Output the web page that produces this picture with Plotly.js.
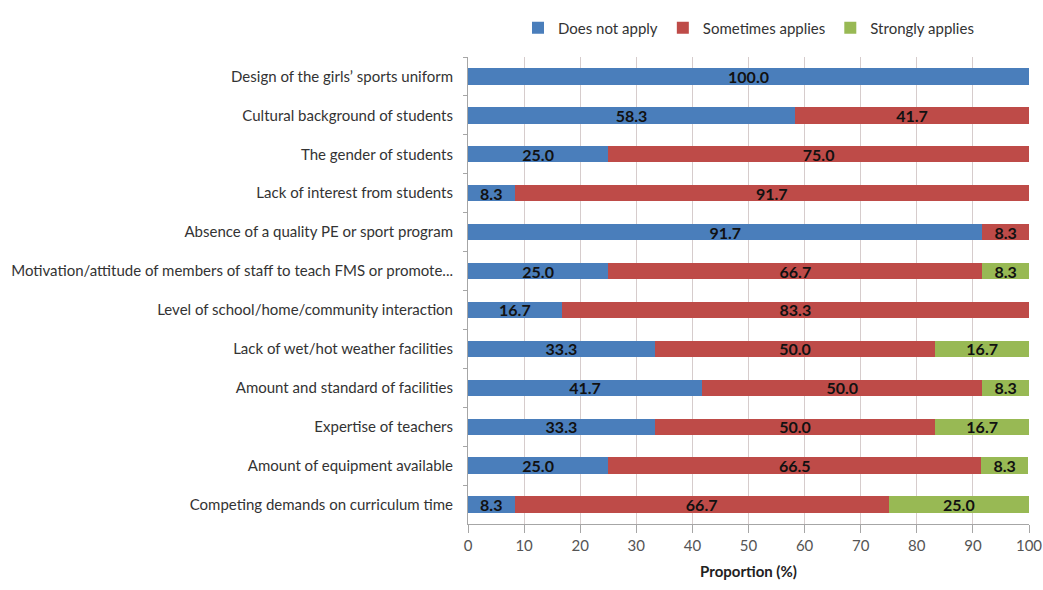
<!DOCTYPE html>
<html>
<head>
<meta charset="utf-8">
<script src="https://cdn.plot.ly/plotly-3.0.1.min.js"></script>
<style>html,body{margin:0;padding:0;background:#fff;}#chart{width:1043px;height:590px;}</style>
</head>
<body>
<div id="chart"></div>
<script>
const categories = [
  "Design of the girls’ sports uniform",
  "Cultural background of students",
  "The gender of students",
  "Lack of interest from students",
  "Absence of a quality PE or sport program",
  "Motivation/attitude of members of staff to teach FMS or promote...",
  "Level of school/home/community interaction",
  "Lack of wet/hot weather facilities",
  "Amount and standard of facilities",
  "Expertise of teachers",
  "Amount of equipment available",
  "Competing demands on curriculum time"
];
const doesNotApply = [100.0, 58.3, 25.0, 8.3, 91.7, 25.0, 16.7, 33.3, 41.7, 33.3, 25.0, 8.3];
const sometimesApplies = [null, 41.7, 75.0, 91.7, 8.3, 66.7, 83.3, 50.0, 50.0, 50.0, 66.5, 66.7];
const stronglyApplies = [null, null, null, null, null, 8.3, null, 16.7, 8.3, 16.7, 8.3, 25.0];
const xTicks = [0, 10, 20, 30, 40, 50, 60, 70, 80, 90, 100];

const FONT = "Lato, 'Open Sans', sans-serif";
function series(name, vals, color) {
  return {
    type: 'bar', orientation: 'h', name: name,
    y: categories, x: vals,
    marker: {color: color, line: {width: 0}},
    texttemplate: '%{x:.1f}', textposition: 'inside', insidetextanchor: 'middle',
    constraintext: 'none',
    textfont: {family: FONT, size: 16, color: '#111', weight: 'bold'},
    hoverinfo: 'none'
  };
}
const data = [
  series('Does not apply', doesNotApply, '#4a7ebb'),
  series('Sometimes applies', sometimesApplies, '#be4b48'),
  series('Strongly applies', stronglyApplies, '#98b954')
];
const layout = {
  width: 1043, height: 590,
  margin: {l: 468, r: 14, t: 57, b: 66, pad: 0},
  barmode: 'stack', bargap: 0.58,
  paper_bgcolor: '#fff', plot_bgcolor: '#fff',
  font: {family: FONT, size: 15, color: '#333'},
  showlegend: true,
  legend: {orientation: 'h', x: 0.5, xanchor: 'center', y: 1.062, yanchor: 'middle',
           font: {family: FONT, size: 15, color: '#333'}, traceorder: 'normal',
           itemwidth: 30, itemsizing: 'constant'},
  xaxis: {
    range: [0, 100], tickvals: xTicks, ticktext: xTicks.map(String),
    showgrid: true, gridcolor: '#d6cccc', gridwidth: 1,
    showline: true, linecolor: '#a6a6a6', linewidth: 1,
    ticks: 'outside', ticklen: 8, tickcolor: '#a6a6a6',
    tickfont: {family: FONT, size: 15, color: '#555'},
    zeroline: false, fixedrange: true,
    title: {text: '<b>Proportion (%)</b>', font: {family: FONT, size: 15, color: '#222'}, standoff: 13}
  },
  yaxis: {
    type: 'category', autorange: 'reversed',
    showline: true, linecolor: '#a6a6a6', linewidth: 1,
    ticks: 'outside', tickson: 'boundaries', ticklen: 4, tickcolor: '#a6a6a6',
    showgrid: false, zeroline: false,
    tickfont: {family: FONT, size: 15, color: '#333'},
    ticklabelstandoff: 11, fixedrange: true
  }
};
Plotly.newPlot('chart', data, layout, {displayModeBar: false, staticPlot: true});
</script>
</body>
</html>
